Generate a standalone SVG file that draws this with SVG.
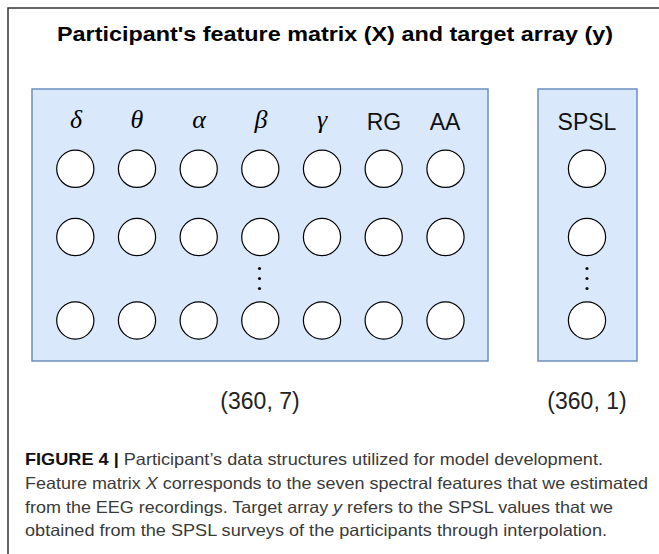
<svg xmlns="http://www.w3.org/2000/svg" width="659" height="554" viewBox="0 0 659 554">
  <defs>
    <style>
      .frame { fill: none; stroke: #333; stroke-width: 1.5; }
      .panel { fill: #dae8fc; stroke: #6c8ebf; stroke-width: 1.5; }
      .cell { fill: #ffffff; stroke: #000; stroke-width: 1.2; }
      .dot { fill: #111; }
      .title { font-family: "Liberation Sans", Arial, sans-serif; font-weight: bold; font-size: 20px; fill: #000; text-anchor: middle; }
      .greek { font-family: "Liberation Serif", "DejaVu Serif", serif; font-style: italic; font-size: 26px; fill: #000; text-anchor: middle; }
      .head { font-family: "Liberation Sans", Arial, sans-serif; font-size: 23px; fill: #111; text-anchor: middle; }
      .shape { font-family: "Liberation Sans", Arial, sans-serif; font-size: 23px; fill: #222; text-anchor: middle; }
      .cap { font-family: "Liberation Sans", Arial, sans-serif; font-size: 16.5px; fill: #3a3a3a; }
      .capb { font-weight: bold; fill: #111; }
      .it { font-style: italic; }
    </style>
    <circle id="c" r="18.6" class="cell"/>
  </defs>

  <rect width="659" height="554" fill="#ffffff"/>
  <!-- page frame: top and left edges -->
  <path class="frame" d="M8,554 V8 H659"/>

  <text class="title" x="335" y="41" textLength="556" lengthAdjust="spacingAndGlyphs">Participant's feature matrix (X) and target array (y)</text>

  <!-- feature matrix X -->
  <g id="matrix-x">
    <rect class="panel" x="32" y="89" width="456" height="272"/>
    <g id="labels-x">
      <text class="greek" x="76" y="128">δ</text>
      <text class="greek" x="137" y="128">θ</text>
      <text class="greek" x="199" y="128">α</text>
      <text class="greek" x="261" y="128">β</text>
      <text class="greek" x="322" y="128">γ</text>
      <text class="head" x="384" y="130">RG</text>
      <text class="head" x="445" y="130">AA</text>
    </g>
    <g id="row1">
      <use href="#c" x="75.3" y="168.8"/>
      <use href="#c" x="137" y="168.8"/>
      <use href="#c" x="198.7" y="168.8"/>
      <use href="#c" x="260.3" y="168.8"/>
      <use href="#c" x="322" y="168.8"/>
      <use href="#c" x="383.7" y="168.8"/>
      <use href="#c" x="445.5" y="168.8"/>
    </g>
    <g id="row2">
      <use href="#c" x="75.3" y="237"/>
      <use href="#c" x="137" y="237"/>
      <use href="#c" x="198.7" y="237"/>
      <use href="#c" x="260.3" y="237"/>
      <use href="#c" x="322" y="237"/>
      <use href="#c" x="383.7" y="237"/>
      <use href="#c" x="445.5" y="237"/>
    </g>
    <g id="ellipsis-x">
      <circle class="dot" cx="259.5" cy="268.5" r="1.6"/>
      <circle class="dot" cx="259.5" cy="278.5" r="1.6"/>
      <circle class="dot" cx="259.5" cy="288.5" r="1.6"/>
    </g>
    <g id="row3">
      <use href="#c" x="75.3" y="320.5"/>
      <use href="#c" x="137" y="320.5"/>
      <use href="#c" x="198.7" y="320.5"/>
      <use href="#c" x="260.3" y="320.5"/>
      <use href="#c" x="322" y="320.5"/>
      <use href="#c" x="383.7" y="320.5"/>
      <use href="#c" x="445.5" y="320.5"/>
    </g>
    <text class="shape" x="260" y="409">(360, 7)</text>
  </g>

  <!-- target array y -->
  <g id="array-y">
    <rect class="panel" x="538" y="89" width="99" height="272"/>
    <text class="head" x="587" y="130">SPSL</text>
    <use href="#c" x="587" y="168.8"/>
    <use href="#c" x="587" y="237"/>
    <circle class="dot" cx="587" cy="268.5" r="1.6"/>
    <circle class="dot" cx="587" cy="278.5" r="1.6"/>
    <circle class="dot" cx="587" cy="288.5" r="1.6"/>
    <use href="#c" x="587" y="320.5"/>
    <text class="shape" x="587" y="409">(360, 1)</text>
  </g>

  <!-- connectors: none in this figure -->
  <g id="connectors"/>

  <!-- caption -->
  <g id="caption">
    <text class="cap" x="25" y="465" textLength="578" lengthAdjust="spacingAndGlyphs"><tspan class="capb">FIGURE 4 |</tspan> Participant’s data structures utilized for model development.</text>
    <text class="cap" x="25" y="489" textLength="623" lengthAdjust="spacingAndGlyphs">Feature matrix <tspan class="it">X</tspan> corresponds to the seven spectral features that we estimated</text>
    <text class="cap" x="25" y="513" textLength="588" lengthAdjust="spacingAndGlyphs">from the EEG recordings. Target array <tspan class="it">y</tspan> refers to the SPSL values that we</text>
    <text class="cap" x="25" y="536" textLength="582" lengthAdjust="spacingAndGlyphs">obtained from the SPSL surveys of the participants through interpolation.</text>
  </g>
</svg>
